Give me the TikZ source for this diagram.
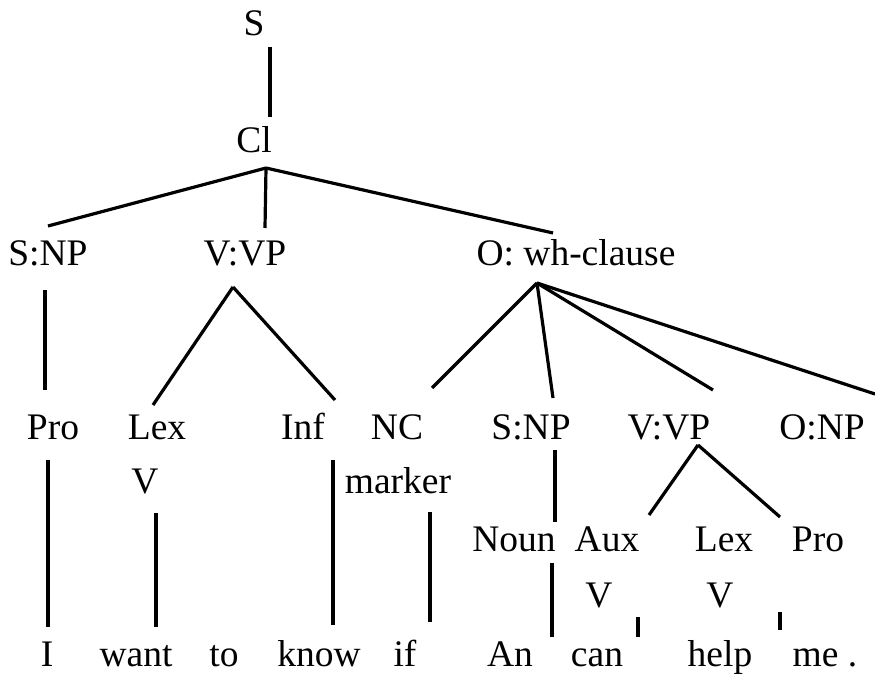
\documentclass[tikz,border=0pt]{standalone}
\usepackage{fontspec}
\setmainfont{Liberation Serif}
\begin{document}
\begin{tikzpicture}[x=1pt,y=-1pt,
  lbl/.style={anchor=base, inner sep=0pt, font=\fontsize{37.5}{40}\selectfont},
  edge/.style={line width=3.2pt, line cap=butt}]
\useasboundingbox[fill=white] (0,0) rectangle (875,674);
% labels
\node[lbl] (S) at (254,36) {S};
\node[lbl] (Cl) at (254,152) {Cl};
\node[lbl] (snp) at (48,265) {S:NP};
\node[lbl] (vvp) at (245,265) {V:VP};
\node[lbl] (owh) at (576,265) {O: wh-clause};
\node[lbl] (pro1) at (53,439) {Pro};
\node[lbl] (lex1) at (157,439) {Lex};
\node[lbl] (inf) at (303,439) {Inf};
\node[lbl] (nc) at (397,439) {NC};
\node[lbl] (snp2) at (531,439) {S:NP};
\node[lbl] (vvp2) at (669,439) {V:VP};
\node[lbl] (onp) at (822,439) {O:NP};
\node[lbl] (v1) at (145,493) {V};
\node[lbl] (marker) at (398,493) {marker};
\node[lbl] (noun) at (514,551) {Noun};
\node[lbl] (aux) at (607,551) {Aux};
\node[lbl] (lex2) at (724,551) {Lex};
\node[lbl] (pro2) at (818,551) {Pro};
\node[lbl] (v2) at (599,607) {V};
\node[lbl] (v3) at (720,607) {V};
\node[lbl] (wI) at (47,666) {I};
\node[lbl] (wwant) at (136,666) {want};
\node[lbl] (wto) at (224,666) {to};
\node[lbl] (wknow) at (319,666) {know};
\node[lbl] (wif) at (405,666) {if};
\node[lbl] (wAn) at (510,666) {An};
\node[lbl] (wcan) at (597,666) {can};
\node[lbl] (whelp) at (720,666) {help};
\node[lbl] (wme) at (825,666) {me .};
% connector end points
\coordinate (S-b) at (270,47);
\coordinate (Cl-t) at (270,117);
\coordinate (Cl-b) at (266,168);
\coordinate (snp-t) at (48,226);
\coordinate (vvp-t) at (265,228);
\coordinate (owh-t) at (553,233);
\coordinate (snp-b) at (45,290);
\coordinate (pro1-t) at (45,390);
\coordinate (vvp-b) at (233,287);
\coordinate (lex1-t) at (153,405);
\coordinate (inf-t) at (335,400);
\coordinate (owh-b) at (537,283);
\coordinate (nc-t) at (432,388);
\coordinate (snp2-t) at (553,398);
\coordinate (vvp2-t) at (713,390);
\coordinate (onp-t) at (875,394);
\coordinate (vvp2-b) at (698,445);
\coordinate (aux-t) at (649,515);
\coordinate (pro2-t) at (780,517);
\coordinate (snp2-b) at (555,450);
\coordinate (noun-t) at (555,522);
\coordinate (pro1-b) at (48,460);
\coordinate (wI-t) at (48,627);
\coordinate (v1-b) at (156,513);
\coordinate (wwant-t) at (156,627);
\coordinate (inf-b) at (333,460);
\coordinate (wknow-t) at (333,625);
\coordinate (marker-b) at (430,512);
\coordinate (wif-t) at (430,622);
\coordinate (noun-b) at (552,563);
\coordinate (wAn-t) at (552,637);
\coordinate (v2-b) at (638,617);
\coordinate (wcan-t) at (638,637);
\coordinate (v3-b) at (780,612);
\coordinate (whelp-t) at (780,630);
% connectors
\draw[edge] (S-b) -- (Cl-t);
\draw[edge] (Cl-b) -- (snp-t);
\draw[edge] (Cl-b) -- (vvp-t);
\draw[edge] (Cl-b) -- (owh-t);
\draw[edge] (snp-b) -- (pro1-t);
\draw[edge] (vvp-b) -- (lex1-t);
\draw[edge] (vvp-b) -- (inf-t);
\draw[edge] (owh-b) -- (nc-t);
\draw[edge] (owh-b) -- (snp2-t);
\draw[edge] (owh-b) -- (vvp2-t);
\draw[edge] (owh-b) -- (onp-t);
\draw[edge] (vvp2-b) -- (aux-t);
\draw[edge] (vvp2-b) -- (pro2-t);
\draw[edge] (snp2-b) -- (noun-t);
\draw[edge] (pro1-b) -- (wI-t);
\draw[edge] (v1-b) -- (wwant-t);
\draw[edge] (inf-b) -- (wknow-t);
\draw[edge] (marker-b) -- (wif-t);
\draw[edge] (noun-b) -- (wAn-t);
\draw[edge] (v2-b) -- (wcan-t);
\draw[edge] (v3-b) -- (whelp-t);
\end{tikzpicture}
\end{document}
